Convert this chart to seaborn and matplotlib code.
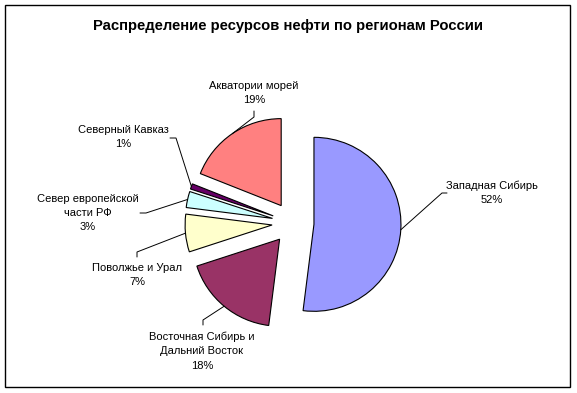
import math
import matplotlib
matplotlib.use('Agg')
import matplotlib.pyplot as plt
import matplotlib.patches as patches
import seaborn as sns

# Данные
regions = ['Западная Сибирь', 'Восточная Сибирь и\nДальний Восток', 'Поволжье и Урал',
           'Север европейской\nчасти РФ', 'Северный Кавказ', 'Акватории морей']
shares = [52, 18, 7, 3, 1, 19]
colors = ['#9999FF', '#993366', '#FFFFCC', '#CCFFFF', '#660066', '#FF8080']

# Положение подписей (пиксели) и изломы выносок
label_pos = [(492, 193), (202, 351), (137, 275), (88, 213), (123, 137), (254, 93)]
elbow_pos = [(442, 193), (203, 320), (137, 252), (146, 213), (176, 138), (254, 117)]
end_pos = [(447, 193), (203, 325), (137, 257), (140, 213), (170, 138), (254, 111)]

sns.set_theme(style='white')
plt.rcParams['font.family'] = ['Liberation Sans', 'DejaVu Sans']
plt.rcParams['text.color'] = 'black'

fig = plt.figure(figsize=(5.77, 3.93), dpi=100)
ax = fig.add_axes([0, 0, 1, 1])

wedges, _ = ax.pie(shares, colors=colors, center=(293, 223), radius=87,
                   explode=[21] * len(shares), startangle=-90, counterclock=True,
                   wedgeprops={'edgecolor': 'black', 'linewidth': 0.8}, frame=True)

ax.set_xlim(0, 577)
ax.set_ylim(393, 0)
ax.axis('off')

# Выноски и подписи
for w, reg, val, lp, el, en in zip(wedges, regions, shares, label_pos, elbow_pos, end_pos):
    tm = math.radians((w.theta1 + w.theta2) / 2)
    ax_x = w.center[0] + w.r * math.cos(tm)
    ax_y = w.center[1] + w.r * math.sin(tm)
    ax.plot([ax_x, el[0], en[0]], [ax_y, el[1], en[1]], color='black', lw=0.7)
    ax.text(lp[0], lp[1], f'{reg}\n{val}%', ha='center', va='center',
            fontsize=8, linespacing=1.55, color='black')

ax.text(288, 26, 'Распределение ресурсов нефти по регионам России',
        ha='center', va='center', fontsize=10.7, fontweight='bold', color='black')

ax.add_patch(patches.Rectangle((5, 5), 565, 382, fill=False, edgecolor='black', lw=1))

fig.savefig('out.png', dpi=100)
